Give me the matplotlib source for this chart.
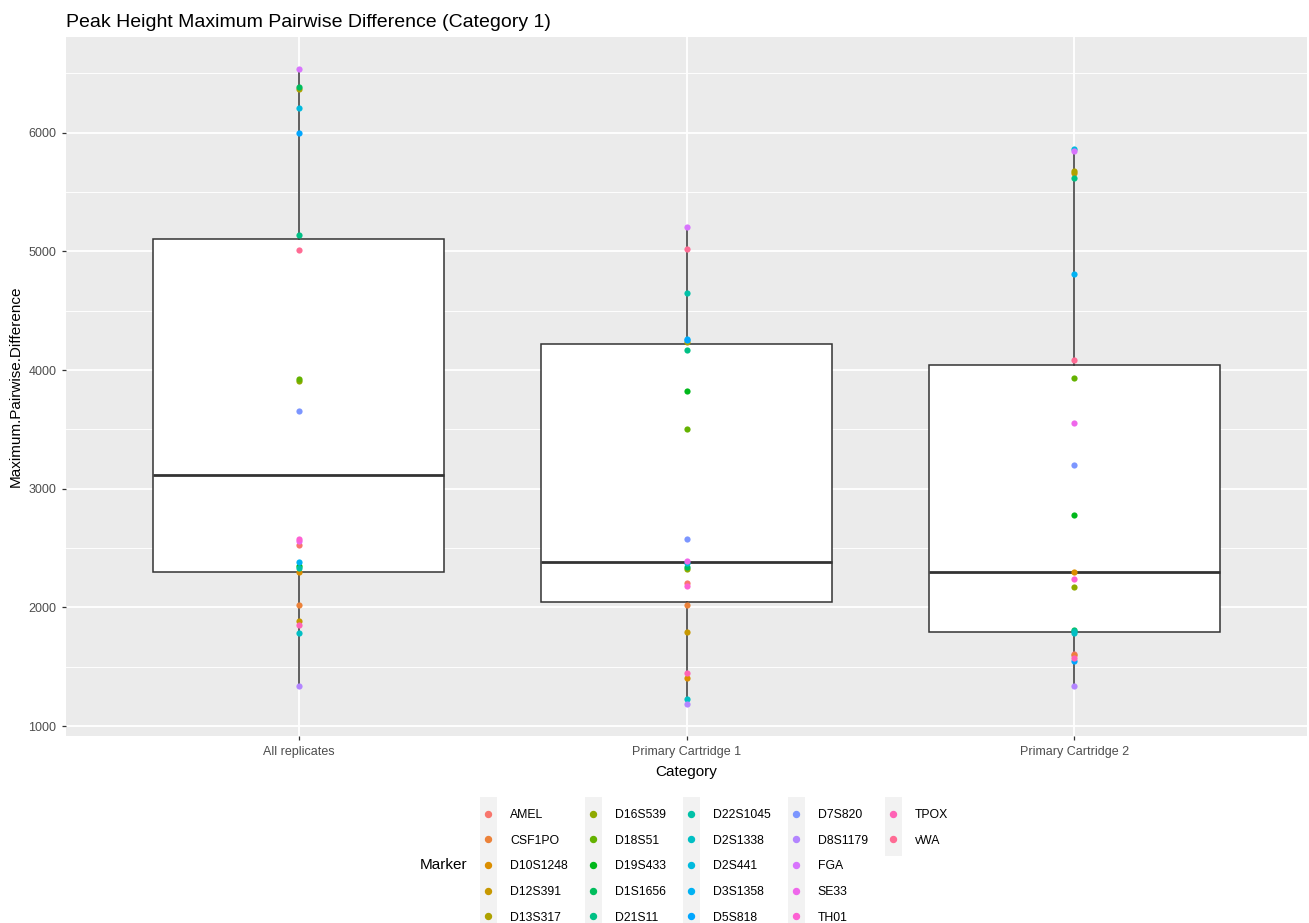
import numpy as np
import matplotlib
matplotlib.use("Agg")
import matplotlib.pyplot as plt
from matplotlib.lines import Line2D
from matplotlib.patches import Rectangle
from matplotlib.legend_handler import HandlerBase

plt.rcParams['font.family'] = ['Liberation Sans', 'DejaVu Sans']

categories = ["All replicates", "Primary Cartridge 1", "Primary Cartridge 2"]
markers = ["AMEL", "CSF1PO", "D10S1248", "D12S391", "D13S317", "D16S539",
           "D18S51", "D19S433", "D1S1656", "D21S11", "D22S1045", "D2S1338",
           "D2S441", "D3S1358", "D5S818", "D7S820", "D8S1179", "FGA", "SE33",
           "TH01", "TPOX", "vWA"]

# maximum pairwise difference per marker, same order as `markers`
all_replicates = [2526, 2018, 2302, 1886, 6367, 3907, 3927, 2349, 6385, 5136, 2330,
                  1789, 6208, 2383, 5997, 3654, 1339, 6539, 2560, 2574, 1850, 5015]
cartridge_1 = [2209, 2021, 1407, 1794, 4240, 2322, 3506, 3820, 2340, 4168, 4647,
               1233, 2372, 4263, 4250, 2574, 1185, 5203, 2391, 2181, 1446, 5018]
cartridge_2 = [1610, 1600, 2300, 5660, 5675, 2170, 3931, 2776, 1814, 5616, 1800,
               1789, 5865, 4810, 1545, 3203, 1337, 5843, 3552, 2237, 1578, 4083]

# box statistics per category
box_q1 = [2300, 2050, 1795]
box_median = [3115, 2385, 2295]
box_q3 = [5105, 4220, 4040]


def hue_palette(n, c=100, l=65):
    # ggplot2 default discrete colours (polar Luv -> sRGB, D65 white)
    hues = np.linspace(15, 375, n + 1)[:n]
    xn, yn, zn = 95.047, 100.0, 108.883
    un = 4 * xn / (xn + 15 * yn + 3 * zn)
    vn = 9 * yn / (xn + 15 * yn + 3 * zn)
    out = []
    for h in hues:
        u = c * np.cos(np.radians(h))
        v = c * np.sin(np.radians(h))
        y = yn * ((l + 16) / 116) ** 3
        up = u / (13 * l) + un
        vp = v / (13 * l) + vn
        x = y * 9 * up / (4 * vp)
        z = y * (12 - 3 * up - 20 * vp) / (4 * vp)
        xyz = np.array([x, y, z]) / 100
        m = np.array([[3.2404542, -1.5371385, -0.4985314],
                      [-0.9692660, 1.8760108, 0.0415560],
                      [0.0556434, -0.2040259, 1.0572252]])
        rgb = m @ xyz
        rgb = np.where(rgb <= 0.0031308, 12.92 * rgb,
                       1.055 * np.power(np.clip(rgb, 0, None), 1 / 2.4) - 0.055)
        out.append(tuple(np.clip(rgb, 0, 1)))
    return out


class KeyHandler(HandlerBase):
    # grey key background with a dot, like ggplot legend keys
    def create_artists(self, legend, orig_handle, xdescent, ydescent,
                       width, height, fontsize, trans):
        pad = 8.8
        rect = Rectangle((-xdescent, -ydescent - pad), width, height + 2 * pad,
                         facecolor='#F2F2F2', edgecolor='none', transform=trans)
        dot = Line2D([width / 2 - xdescent], [height / 2 - ydescent], marker='o',
                     ms=4.3, ls='none', color=orig_handle.get_color(),
                     transform=trans)
        return [rect, dot]


class BlankHandler(HandlerBase):
    # empty slot so the last column holds only the leftover keys
    def create_artists(self, legend, orig_handle, xdescent, ydescent,
                       width, height, fontsize, trans):
        return [Line2D([], [], visible=False, transform=trans)]


colors = hue_palette(len(markers))
values = np.array([all_replicates, cartridge_1, cartridge_2])
xpos = np.arange(len(categories))

fig = plt.figure(figsize=(13.09, 9.23), dpi=100)
ax = fig.add_axes([66 / 1309, 1 - 736 / 923, 1241 / 1309, 699 / 923])
ax.set_facecolor('#EBEBEB')

stats = []
for k in range(len(categories)):
    stats.append(dict(med=box_median[k], q1=box_q1[k], q3=box_q3[k],
                      whislo=values[k].min(), whishi=values[k].max(), fliers=[]))
line = dict(color='#333333', lw=1.1)
ax.bxp(stats, positions=xpos, widths=0.75, patch_artist=True, showcaps=False,
       boxprops=dict(facecolor='white', edgecolor='#333333', lw=1.1),
       whiskerprops=line, medianprops=dict(color='#333333', lw=2.0), zorder=3)

for i, name in enumerate(markers):
    ax.scatter(xpos, values[:, i], s=20, color=colors[i], lw=0, zorder=4)

lo, hi = values.min(), values.max()
span = hi - lo
ax.set_ylim(lo - 0.05 * span, hi + 0.05 * span)
ax.set_xlim(-0.6, 2.6)
ax.set_xticks(xpos)
ax.set_xticklabels(categories)
ax.set_yticks(np.arange(1000, 6001, 1000))
ax.set_yticks(np.arange(1500, 6501, 1000), minor=True)
ax.grid(which='major', color='white', lw=1.3)
ax.grid(which='minor', axis='y', color='white', lw=0.65)
ax.set_axisbelow(True)
for s in ax.spines.values():
    s.set_visible(False)
ax.tick_params(which='major', length=3, width=0.9, color='#333333',
               labelcolor='#4D4D4D', labelsize=9, pad=4)
ax.tick_params(which='minor', length=0)
ax.set_xlabel("Category", fontsize=11, labelpad=5)
ax.set_ylabel("Maximum.Pairwise.Difference", fontsize=11, labelpad=4)

fig.text(66 / 1309, 1 - 27 / 923, "Peak Height Maximum Pairwise Difference (Category 1)",
         fontsize=14, va='baseline', ha='left')

handles = [Line2D([], [], color=c) for c in colors]
labels = list(markers)
hmap = {Line2D: KeyHandler()}
for _ in range(3):
    blank = Line2D([], [])
    handles.append(blank)
    labels.append("")
    hmap[blank] = BlankHandler()

fig.legend(handles, labels, handler_map=hmap, ncol=5,
           loc='upper left', bbox_to_anchor=(480 / 1309, 1 - 809 / 923),
           frameon=False, fontsize=8.8, handlelength=1.39, handleheight=0.7,
           handletextpad=1.07, labelspacing=1.12, columnspacing=1.39,
           borderpad=0, borderaxespad=0)
fig.text(467 / 1309, 1 - 865 / 923, "Marker", fontsize=11, ha='right', va='center')

fig.savefig("out.png", dpi=100)
